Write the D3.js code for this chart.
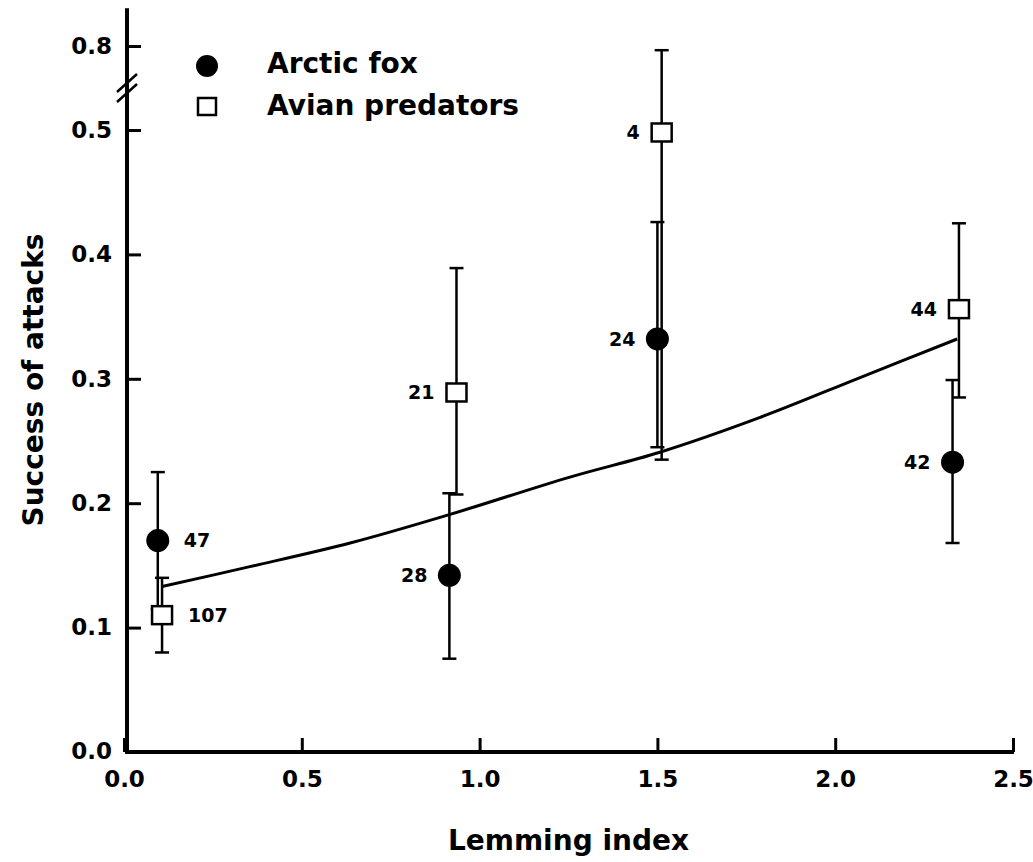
<!DOCTYPE html>
<html>
<head>
<meta charset="utf-8">
<script src="https://cdn.jsdelivr.net/npm/d3@7"></script>
<style>
  body { margin: 0; background: #fff; }
  text { font-family: "DejaVu Sans", sans-serif; font-weight: bold; fill: #000; }
</style>
</head>
<body>
<div id="wrapper"></div>
<script>
// data
const foxX = [0.095, 0.915, 1.5, 2.33];
const foxY = [0.17, 0.142, 0.332, 0.233];
const foxLo = [0.115, 0.075, 0.245, 0.168];
const foxHi = [0.225, 0.208, 0.426, 0.299];
const foxN = [47, 28, 24, 42];
const foxSide = ['right', 'left', 'left', 'left'];

const avianX = [0.107, 0.935, 1.512, 2.348];
const avianY = [0.11, 0.289, 0.498, 0.356];
const avianLo = [0.08, 0.207, 0.235, 0.285];
const avianHi = [0.14, 0.389, 0.785, 0.425];
const avianN = [107, 21, 4, 44];
const avianSide = ['right', 'left', 'left', 'left'];

// fitted curve
const fitX = [0.107, 0.354, 0.636, 0.917, 1.254, 1.507, 1.789, 2.07, 2.343];
const fitY = [0.133, 0.149, 0.168, 0.191, 0.221, 0.241, 0.269, 0.301, 0.332];

const xTicks = [0, 0.5, 1.0, 1.5, 2.0, 2.5];
const yTicks = [0, 0.1, 0.2, 0.3, 0.4, 0.5, 0.8];

const legendLabels = ['Arctic fox', 'Avian predators'];

const width = 1033;
const height = 862;

const svg = d3.select('#wrapper').append('svg')
    .attr('width', width)
    .attr('height', height);

const xScale = d3.scaleLinear()
    .domain([0, 2.5])
    .range([124, 1013]);

// broken axis: 0-0.5 then a jump up to 0.8
const yScale = d3.scaleLinear()
    .domain([0, 0.5, 0.8])
    .range([752, 130, 46]);

const yTop = 0.935;
const breakY = (yScale(0.5) + yScale(0.8)) / 2;

const toPoints = (xs, ys, lo, hi, ns, sides) => xs.map((x, i) => ({
    x, y: ys[i], lo: lo[i], hi: hi[i], n: ns[i], side: sides[i]
}));
const fox = toPoints(foxX, foxY, foxLo, foxHi, foxN, foxSide);
const avian = toPoints(avianX, avianY, avianLo, avianHi, avianN, avianSide);

// axes
const xAxis = svg.append('g')
    .attr('transform', `translate(0, ${yScale(0)})`)
    .call(d3.axisBottom(xScale)
        .tickValues(xTicks)
        .tickFormat(d3.format('.1f'))
        .tickSizeInner(-14)
        .tickSizeOuter(0)
        .tickPadding(19));

const yAxis = svg.append('g')
    .attr('transform', `translate(${xScale(0) + 3}, 0)`)
    .call(d3.axisLeft(yScale)
        .tickValues(yTicks.filter(d => d > 0))
        .tickFormat(d3.format('.1f'))
        .tickSizeInner(-14)
        .tickSizeOuter(0)
        .tickPadding(15));

svg.selectAll('.domain').remove();
svg.selectAll('.tick line').attr('stroke', '#000').attr('stroke-width', 3);
svg.selectAll('.tick text').style('font-size', '23px');

// y tick label for 0.0 (the corner)
yAxis.append('text')
    .attr('x', -15)
    .attr('y', yScale(0))
    .attr('dy', '0.32em')
    .attr('text-anchor', 'end')
    .style('font-size', '23px')
    .text(d3.format('.1f')(0));

// axis lines
svg.append('line')
    .attr('x1', xScale(0) + 3).attr('x2', xScale(0) + 3)
    .attr('y1', yScale(yTop)).attr('y2', yScale(0) + 2)
    .attr('stroke', '#000').attr('stroke-width', 4);

svg.append('line')
    .attr('x1', xScale(0) + 1).attr('x2', xScale(2.5) + 1)
    .attr('y1', yScale(0)).attr('y2', yScale(0))
    .attr('stroke', '#000').attr('stroke-width', 4);

// break marks
[-5, 5].forEach(off => {
    svg.append('line')
        .attr('x1', xScale(0) - 7).attr('y1', breakY + off + 9)
        .attr('x2', xScale(0) + 13).attr('y2', breakY + off - 9)
        .attr('stroke', '#000').attr('stroke-width', 2.5);
});

// fitted curve
const line = d3.line()
    .x((d, i) => xScale(fitX[i]))
    .y(d => yScale(d))
    .curve(d3.curveCatmullRom);

svg.append('path')
    .attr('d', line(fitY))
    .attr('fill', 'none')
    .attr('stroke', '#000')
    .attr('stroke-width', 3);

// error bars
function drawBars(data, cls) {
    const g = svg.append('g').attr('class', cls);
    g.selectAll('line.bar').data(data).enter().append('line')
        .attr('class', 'bar')
        .attr('x1', d => xScale(d.x)).attr('x2', d => xScale(d.x))
        .attr('y1', d => yScale(d.lo)).attr('y2', d => yScale(d.hi))
        .attr('stroke', '#000').attr('stroke-width', 2.5);
    ['lo', 'hi'].forEach(k => {
        g.selectAll(`line.cap-${k}`).data(data).enter().append('line')
            .attr('class', `cap-${k}`)
            .attr('x1', d => xScale(d.x) - 7).attr('x2', d => xScale(d.x) + 7)
            .attr('y1', d => yScale(d[k])).attr('y2', d => yScale(d[k]))
            .attr('stroke', '#000').attr('stroke-width', 2.5);
    });
}
drawBars(fox, 'fox-bars');
drawBars(avian, 'avian-bars');

// markers
svg.append('g').selectAll('circle').data(fox).enter().append('circle')
    .attr('cx', d => xScale(d.x))
    .attr('cy', d => yScale(d.y))
    .attr('r', 11.5)
    .attr('fill', '#000');

svg.append('g').selectAll('rect').data(avian).enter().append('rect')
    .attr('x', d => xScale(d.x) - 10)
    .attr('y', d => yScale(d.y) - 9)
    .attr('width', 20)
    .attr('height', 18)
    .attr('fill', '#fff')
    .attr('stroke', '#000')
    .attr('stroke-width', 2.5);

// sample sizes
function drawLabels(data) {
    svg.append('g').selectAll('text').data(data).enter().append('text')
        .attr('x', d => xScale(d.x) + (d.side === 'right' ? 26 : -22))
        .attr('y', d => yScale(d.y))
        .attr('dy', '0.36em')
        .attr('text-anchor', d => d.side === 'right' ? 'start' : 'end')
        .style('font-size', '19px')
        .text(d => d.n);
}
drawLabels(fox);
drawLabels(avian);

// legend
const legend = svg.append('g').attr('transform', 'translate(207, 66)');
legend.append('circle').attr('cx', 0).attr('cy', 0).attr('r', 11).attr('fill', '#000');
legend.append('rect')
    .attr('x', -9).attr('y', 32).attr('width', 18).attr('height', 17)
    .attr('fill', '#fff').attr('stroke', '#000').attr('stroke-width', 2.5);
legend.selectAll('text').data(legendLabels).enter().append('text')
    .attr('x', 60)
    .attr('y', (d, i) => 7 + i * 42)
    .style('font-size', '28px')
    .text(d => d);

// axis titles
svg.append('text')
    .attr('x', (xScale(0) + xScale(2.5)) / 2)
    .attr('y', 850)
    .attr('text-anchor', 'middle')
    .style('font-size', '28px')
    .text('Lemming index');

svg.append('text')
    .attr('transform', `translate(43, 380) rotate(-90)`)
    .attr('text-anchor', 'middle')
    .style('font-size', '28px')
    .text('Success of attacks');
</script>
</body>
</html>
